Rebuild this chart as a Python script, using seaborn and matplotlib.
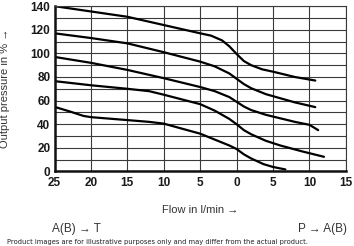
import matplotlib
matplotlib.use("Agg")
import matplotlib.pyplot as plt
import seaborn as sns
import pandas as pd

# Flow (negative = A(B)->T side, positive = P->A(B) side), output pressure in %
flow_1 = [-25, -20, -15, -10, -5, -3.5, -2, -1, 0, 1, 2, 3.5, 5, 8, 10.8]
press_1 = [140, 135.5, 131, 124, 117, 115, 111, 106, 99.5, 93.5, 90, 86.5, 84.5, 80, 77]

flow_2 = [-25, -20, -15, -10, -5, -3, -1, 0, 1, 2, 4, 6, 8, 10.8]
press_2 = [117, 113, 108.5, 101, 93, 89, 83, 78.5, 74, 70.5, 65.5, 62, 58.5, 54.5]

flow_3 = [-25, -20, -15, -10, -5, -3, -1, 0, 1, 2, 4, 6, 8, 10, 11.2]
press_3 = [97, 92, 86, 79, 71.5, 68, 63, 59, 55, 52, 48, 45, 42, 39.5, 35]

flow_4 = [-25, -20, -15, -12, -10, -5, -3, -1, 0, 1, 2, 4, 6, 9, 12]
press_4 = [76.5, 73, 70, 68, 65, 57, 51.5, 44.5, 40, 35, 31.5, 26, 22, 17, 12.4]

flow_5 = [-25, -23, -21, -20, -15, -12, -10, -5, -3, -1, 0, 1, 2, 3.7, 5, 6.7]
press_5 = [54.7, 51, 47, 46, 43.5, 42, 40.5, 32, 27, 22, 19, 14.5, 11, 6.2, 3.8, 1.7]

x_tick_values = [-25, -20, -15, -10, -5, 0, 5, 10, 15]
x_tick_labels = ["25", "20", "15", "10", "5", "0", "5", "10", "15"]
y_tick_values = [0, 20, 40, 60, 80, 100, 120, 140]

x_label = "Flow in l/min \u2192"
y_label = "Output pressure in % \u2192"
left_note = "A(B) \u2192 T"
right_note = "P \u2192 A(B)"
footer = "Product images are for illustrative purposes only and may differ from the actual product."

frames = []
for i, (fx, py) in enumerate([(flow_1, press_1), (flow_2, press_2), (flow_3, press_3),
                              (flow_4, press_4), (flow_5, press_5)]):
    frames.append(pd.DataFrame({"flow": fx, "pressure": py, "curve": i}))
df = pd.concat(frames, ignore_index=True)

sns.set_style("white")
plt.rcParams["font.family"] = ["Liberation Sans", "DejaVu Sans"]

fig = plt.figure(figsize=(3.54, 2.46), dpi=100)
ax = fig.add_axes([0.154, 0.303, 0.823, 0.672])

sns.lineplot(data=df, x="flow", y="pressure", units="curve", estimator=None,
             sort=False, color="black", linewidth=1.6, ax=ax, legend=False)

ax.set_xlim(-25, 15)
ax.set_ylim(0, 140)
ax.set_yticks(range(0, 141, 10), minor=True)
ax.set_xticks(x_tick_values)
ax.set_xticklabels(x_tick_labels, fontsize=8.5, fontweight="bold", color="#1a1a1a")
ax.set_yticks(y_tick_values)
ax.set_yticklabels([str(v) for v in y_tick_values], fontsize=8.5, fontweight="bold", color="#1a1a1a")
ax.grid(True, which="both", color="#3a3a3a", linewidth=0.8)
ax.set_axisbelow(True)
ax.tick_params(axis="both", which="both", length=0)
ax.tick_params(axis="x", pad=4)
ax.tick_params(axis="y", pad=3)

for side in ["top", "right"]:
    ax.spines[side].set_color("#3a3a3a")
    ax.spines[side].set_linewidth(0.8)
for side in ["left", "bottom"]:
    ax.spines[side].set_color("#111111")
    ax.spines[side].set_linewidth(1.8)

ax.set_xlabel("")
ax.set_ylabel("")
fig.text(0.565, 0.145, x_label, ha="center", va="center", fontsize=8, color="#333333")
fig.text(0.015, 0.64, y_label, ha="center", va="center", rotation=90, fontsize=8, color="#333333")
fig.text(0.147, 0.068, left_note, ha="left", va="center", fontsize=8.5, color="#333333")
fig.text(0.98, 0.068, right_note, ha="right", va="center", fontsize=8.5, color="#333333")
fig.text(0.02, 0.018, footer, ha="left", va="center", fontsize=4.9, color="#222222",
         family=["DejaVu Sans"])

fig.savefig("out.png", dpi=100)
